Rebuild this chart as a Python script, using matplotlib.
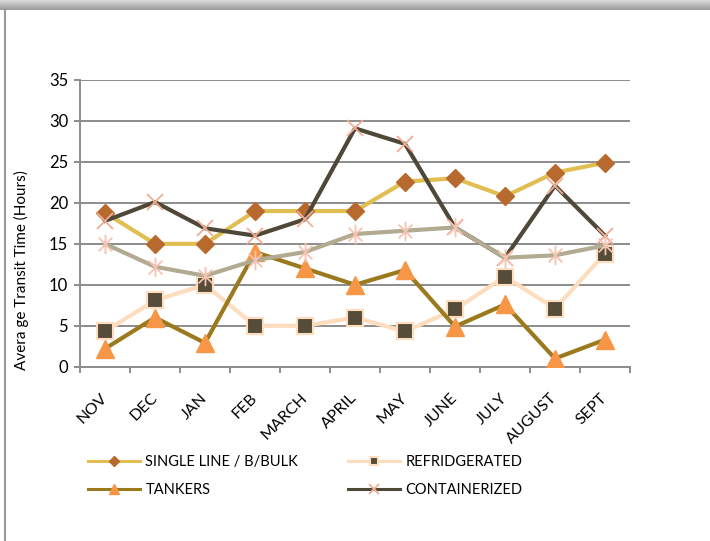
import numpy as np
import matplotlib
matplotlib.use("Agg")
import matplotlib.pyplot as plt
from matplotlib.lines import Line2D
from matplotlib.path import Path

plt.rcParams['font.family'] = ['Lato', 'DejaVu Sans']

months = ["NOV", "DEC", "JAN", "FEB", "MARCH", "APRIL", "MAY", "JUNE", "JULY", "AUGUST", "SEPT"]
single_bulk = [18.8, 15.0, 15.0, 19.0, 19.0, 19.0, 22.6, 23.0, 20.8, 23.7, 24.9]
refrigerated = [4.3, 8.1, 10.0, 5.0, 5.0, 6.0, 4.3, 7.0, 11.0, 7.1, 13.8]
tankers = [2.2, 6.0, 2.9, 14.0, 12.0, 10.0, 11.8, 4.9, 7.6, 1.0, 3.3]
containerized = [17.8, 20.1, 16.9, 16.0, 18.0, 29.1, 27.2, 17.0, 13.3, 22.1, 16.0]
other_series = [15.0, 12.2, 11.1, 13.0, 14.0, 16.2, 16.6, 17.0, 13.3, 13.6, 14.8]
yticks = [0, 5, 10, 15, 20, 25, 30, 35]

W, H = 710, 541
fig = plt.figure(figsize=(W / 100, H / 100), dpi=100)

# frame decoration: top shadow band and left border
band = fig.add_axes([0, 1 - 10 / H, 1, 10 / H])
grad = np.linspace(0.86, 0.60, 20).reshape(-1, 1)
band.imshow(np.repeat(grad, 2, axis=1), cmap='gray', vmin=0, vmax=1, aspect='auto',
            extent=[0, 1, 0, 1])
band.axis('off')
fig.add_artist(Line2D([5 / W, 5 / W], [0, 1 - 10 / H], color='#9a9a9a', lw=1.5,
                      transform=fig.transFigure))

ax = fig.add_axes([80 / W, 1 - 366.7 / H, 550 / W, (366.7 - 80) / H])
x = np.arange(len(months))

star_path = Path([(0, -1), (0, 1), (-0.707, -0.707), (0.707, 0.707),
                  (-0.707, 0.707), (0.707, -0.707)],
                 [Path.MOVETO, Path.LINETO, Path.MOVETO, Path.LINETO, Path.MOVETO, Path.LINETO])

h1, = ax.plot(x, single_bulk, color='#E1BE52', lw=3, marker='D', ms=9,
              mfc='#B8692E', mec='#B8692E', zorder=3)
h2, = ax.plot(x, refrigerated, color='#FDDDBD', lw=3, marker='s', ms=11,
              mfc='#554C39', mec='#FDDDBD', mew=1.5, zorder=4)
h3, = ax.plot(x, tankers, color='#9A7A1D', lw=3, marker='^', ms=13,
              mfc='#F79646', mec='#F79646', zorder=5)
h4, = ax.plot(x, containerized, color='#4F4737', lw=3, marker='x', ms=12,
              mec='#F2AE94', mew=1.3, zorder=6)
h5, = ax.plot(x, other_series, color='#B3AA92', lw=3, marker=star_path, ms=14,
              mec='#F5C3B2', mew=1.3, zorder=7)

ax.set_xlim(-0.5, len(months) - 0.5)
ax.set_ylim(0, 35)
ax.set_yticks(yticks)
ax.set_yticklabels([str(v) for v in yticks], fontsize=12)
ax.yaxis.grid(True, color='#8c8c8c', lw=1.4)
ax.set_axisbelow(True)
for s in ['top', 'right']:
    ax.spines[s].set_visible(False)
for s in ['left', 'bottom']:
    ax.spines[s].set_color('#8c8c8c')
    ax.spines[s].set_linewidth(1.4)
ax.tick_params(axis='y', length=4.5, color='#8c8c8c', width=1.4, pad=4)

ax.set_xticks(x)
ax.set_xticklabels(months, rotation=45, ha='right', va='center',
                   rotation_mode='anchor', fontsize=11.5)
ax.tick_params(axis='x', which='major', length=0, pad=21)
ax.set_xticks(np.arange(len(months) + 1) - 0.5, minor=True)
ax.tick_params(axis='x', which='minor', length=4, color='#8c8c8c', width=1.4)

fig.text(21 / W, 1 - 270 / H, "Avera ge Transit Time (Hours)", rotation=90,
         ha='center', va='center', fontsize=11)

leg = fig.legend([h1, h3, h2, h4],
                 ["SINGLE LINE / B/BULK", "TANKERS", "REFRIDGERATED", "CONTAINERIZED"],
                 ncol=2, loc='upper left', bbox_to_anchor=(82 / W, 1 - 449 / H),
                 frameon=False, fontsize=10.5, handlelength=3.6, handletextpad=0.35,
                 columnspacing=3.4, labelspacing=0.95, markerscale=0.55,
                 borderaxespad=0)
for lh in leg.get_lines():
    lh.set_linewidth(2.2)

fig.savefig("out.png", dpi=100)
